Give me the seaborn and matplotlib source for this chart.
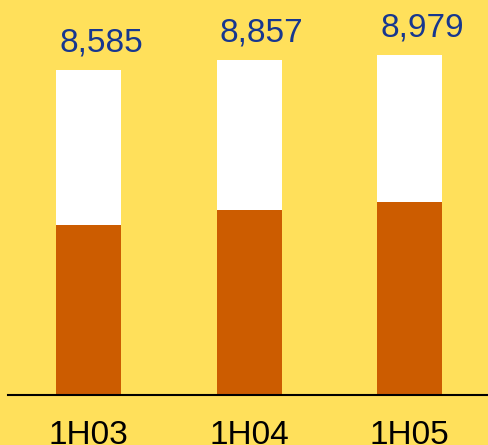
import matplotlib
matplotlib.use("Agg")
import matplotlib.pyplot as plt
import seaborn as sns
import pandas as pd

periods = ["1H03", "1H04", "1H05"]
totals = [8585, 8857, 8979]
lower = [4490, 4880, 5090]
total_labels = ["8,585", "8,857", "8,979"]

BG = "#FFE05B"
ORANGE = "#CC5C00"
BLUE = "#17378F"

sns.set_theme(style="white")
plt.rcParams["font.family"] = ["Liberation Sans", "DejaVu Sans"]

df = pd.DataFrame({"period": periods, "total": totals, "lower": lower})

fig = plt.figure(figsize=(4.88, 4.45), dpi=100, facecolor=BG)
ax = fig.add_axes([8 / 488, 50.5 / 445, 480 / 488, 394.5 / 445])
ax.set_facecolor(BG)

sns.barplot(data=df, x="period", y="total", order=periods, color="white",
            saturation=1, width=0.405, ax=ax, linewidth=0)
sns.barplot(data=df, x="period", y="lower", order=periods, color=ORANGE,
            saturation=1, width=0.405, ax=ax, linewidth=0)

for i, (t, lab) in enumerate(zip(totals, total_labels)):
    ax.annotate(lab, xy=(i, t), xytext=(9, 13), textcoords="offset points",
                ha="center", va="baseline", color=BLUE, fontsize=24)

ax.set_xlim(-0.5016, 2.489)
ax.set_ylim(0, 10431)
ax.set_yticks([])
ax.set_xlabel("")
ax.set_ylabel("")
for s in ["top", "left", "right"]:
    ax.spines[s].set_visible(False)
ax.spines["bottom"].set_color("black")
ax.spines["bottom"].set_linewidth(1.5)
ax.tick_params(axis="x", length=0, pad=18, labelsize=24, labelcolor="black")

fig.savefig("out.png", dpi=100, facecolor=BG)
